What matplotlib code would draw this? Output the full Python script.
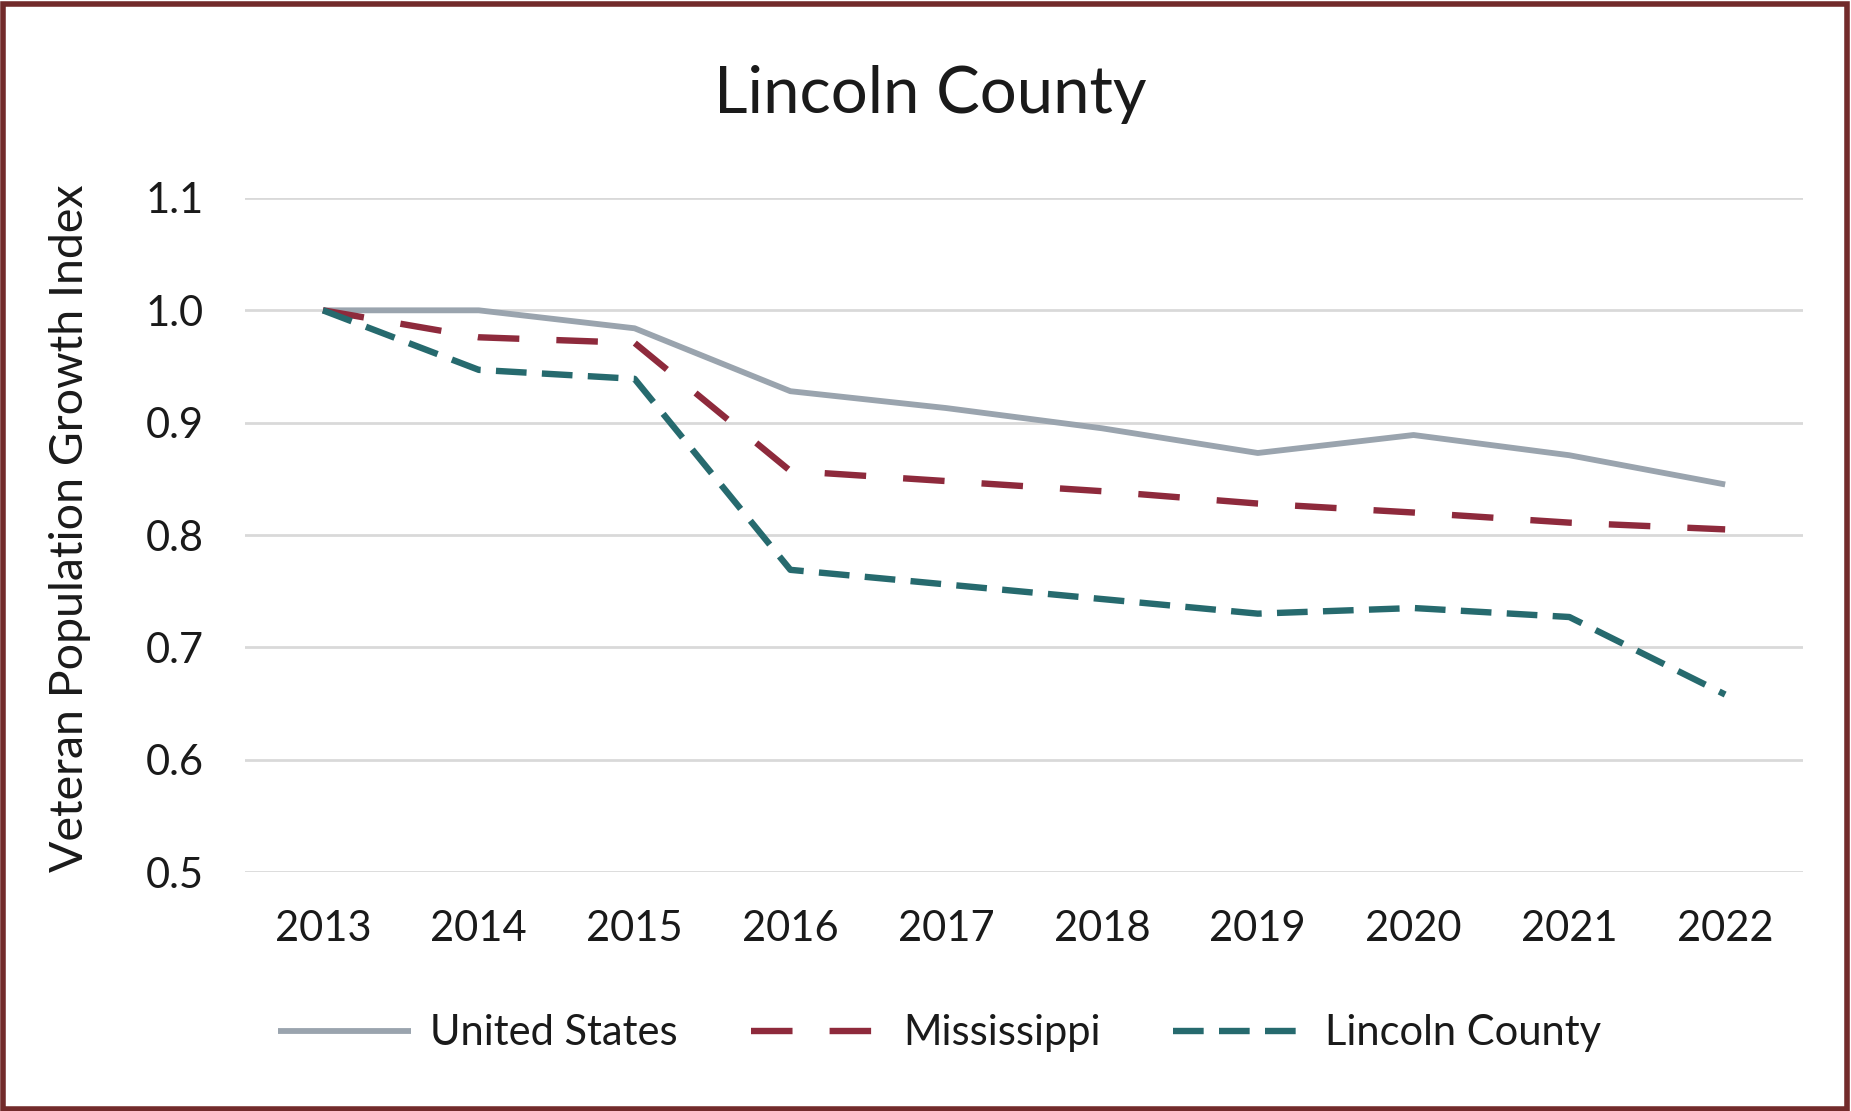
import matplotlib
matplotlib.use("Agg")
import matplotlib.pyplot as plt
from matplotlib.patches import Rectangle

years = ["2013", "2014", "2015", "2016", "2017", "2018", "2019", "2020", "2021", "2022"]
united_states = [1.000, 1.000, 0.984, 0.928, 0.913, 0.895, 0.873, 0.889, 0.871, 0.845]
mississippi = [1.000, 0.976, 0.971, 0.857, 0.848, 0.839, 0.828, 0.820, 0.811, 0.805]
lincoln_county = [1.000, 0.947, 0.939, 0.769, 0.756, 0.743, 0.730, 0.735, 0.727, 0.658]
y_ticks = [0.5, 0.6, 0.7, 0.8, 0.9, 1.0, 1.1]

plt.rcParams['font.family'] = ['Lato', 'DejaVu Sans']
text_color = "#1a1a1a"

fig = plt.figure(figsize=(18.51, 11.11), dpi=100)
ax = fig.add_axes([0.1324, 0.2151, 0.8417, 0.6067])

x = list(range(len(years)))
ax.plot(x, united_states, color="#9AA4AE", lw=4.2, solid_capstyle="butt", label="United States", zorder=3)
ax.plot(x, mississippi, color="#8E2A3C", lw=4.6, dashes=(6.5, 5.8), dash_capstyle="butt", label="Mississippi", zorder=4)
ax.plot(x, lincoln_county, color="#266A6E", lw=4.6, dashes=(4.8, 2.4), dash_capstyle="butt", label="Lincoln County", zorder=5)

ax.set_xlim(-0.5, len(years) - 0.5)
ax.set_ylim(0.5, 1.1)
ax.set_yticks(y_ticks)
ax.set_yticklabels([f"{v:.1f}" for v in y_ticks])
ax.set_xticks(x)
ax.set_xticklabels(years)
ax.grid(axis="y", color="#D9D9D9", lw=2)
ax.set_axisbelow(True)
for s in ax.spines.values():
    s.set_visible(False)
ax.tick_params(axis="both", length=0, labelsize=30, colors=text_color)
ax.tick_params(axis="x", pad=27)
ax.tick_params(axis="y", pad=30)
ax.set_ylabel("Veteran Population Growth Index", fontsize=33.5, color=text_color)
ax.yaxis.set_label_coords(-0.099, 0.51)

fig.text(0.5025, 0.915, "Lincoln County", ha="center", va="center", fontsize=47, color=text_color)

leg = fig.legend(loc="center", bbox_to_anchor=(0.5077, 0.070), ncol=3, frameon=False,
                 fontsize=30, handlelength=3.2, columnspacing=1.75, handletextpad=0.45)
for t in leg.get_texts():
    t.set_color(text_color)

fig.patches.append(Rectangle((0.0015, 0.002), 0.9965, 0.994, transform=fig.transFigure,
                             fill=False, edgecolor="#722B2B", lw=4, zorder=10))

fig.savefig("out.png", dpi=100, facecolor="white")
